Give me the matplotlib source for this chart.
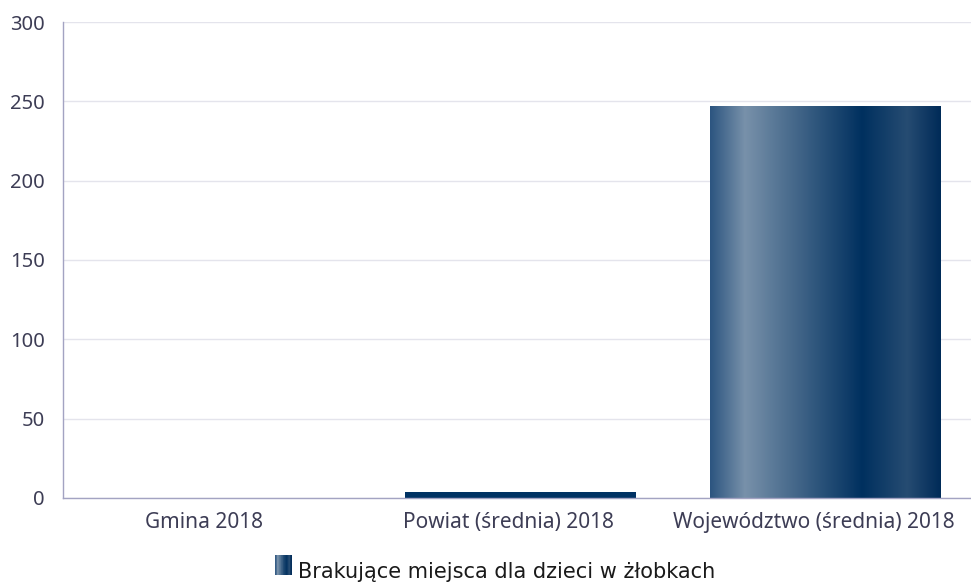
import numpy as np
import matplotlib
matplotlib.use("Agg")
import matplotlib.pyplot as plt
import matplotlib.transforms as mtransforms
from matplotlib.colors import LinearSegmentedColormap
from matplotlib.patches import Rectangle
from matplotlib.legend_handler import HandlerBase

categories = ["Gmina 2018", "Powiat (średnia) 2018", "Województwo (średnia) 2018"]
values = [0, 4, 247]
series_name = "Brakujące miejsca dla dzieci w żłobkach"
yticks = [0, 50, 100, 150, 200, 250, 300]

grad = LinearSegmentedColormap.from_list("bar", [
    (0.0, "#2c5580"), (0.15, "#7891aa"), (0.66, "#00305f"),
    (0.855, "#264c72"), (1.0, "#002b58")])

fig = plt.figure(figsize=(9.71, 5.84), dpi=100)
ax = fig.add_axes([0.0649, 0.1473, 0.9423, 0.815])

x = np.arange(len(categories))
width = 0.755
bars = ax.bar(x, values, width, color="#003263", zorder=2)

# horizontal gradient on the tall bar(s)
g = np.linspace(0, 1, 256).reshape(1, -1)
for b, v in zip(bars, values):
    if v > 20:
        b.set_facecolor("none")
        im = ax.imshow(g, cmap=grad, aspect="auto", zorder=2,
                       extent=[b.get_x(), b.get_x() + b.get_width(), 0, v])
        im.set_clip_path(b)

ax.set_xlim(-0.5, 2.5)
ax.set_ylim(0, 300)
ax.set_yticks(yticks)
ax.set_xticks(x)
ax.set_xticklabels(categories)
ax.grid(axis="y", color="#e4e4ec", linewidth=1, zorder=0)
ax.set_axisbelow(True)
for s in ["top", "right"]:
    ax.spines[s].set_visible(False)
for s in ["left", "bottom"]:
    ax.spines[s].set_color("#a3a3c2")
    ax.spines[s].set_linewidth(1)
ax.tick_params(length=0, pad=10, labelsize=14.5, labelcolor="#3d3d55")
ax.tick_params(axis="x", labelsize=15)
for lab in ax.get_xticklabels() + ax.get_yticklabels():
    lab.set_fontfamily("Noto Sans")
ax.tick_params(axis="y", pad=13)

# category labels sit a little left of bar centres in the original
shift = mtransforms.ScaledTranslation(-0.12, 0, fig.dpi_scale_trans)
for lab in ax.get_xticklabels():
    lab.set_transform(lab.get_transform() + shift)


class GradHandler(HandlerBase):
    def create_artists(self, legend, orig, xd, yd, w, h, fontsize, trans):
        arts = []
        n = 24
        for i in range(n):
            r = Rectangle((xd + w * i / n, yd), w / n, h,
                          color=grad((i + 0.5) / n), lw=0, transform=trans)
            arts.append(r)
        return arts


proxy = Rectangle((0, 0), 1, 1)
fig.legend([proxy], [series_name], handler_map={Rectangle: GradHandler()},
           loc="center", bbox_to_anchor=(0.51, 0.022), frameon=False,
           prop={"family": "DejaVu Sans", "size": 15},
           handlelength=0.8, handleheight=1.1, handletextpad=0.3,
           labelcolor="#1a1a1a")

fig.savefig("out.png", dpi=100)
